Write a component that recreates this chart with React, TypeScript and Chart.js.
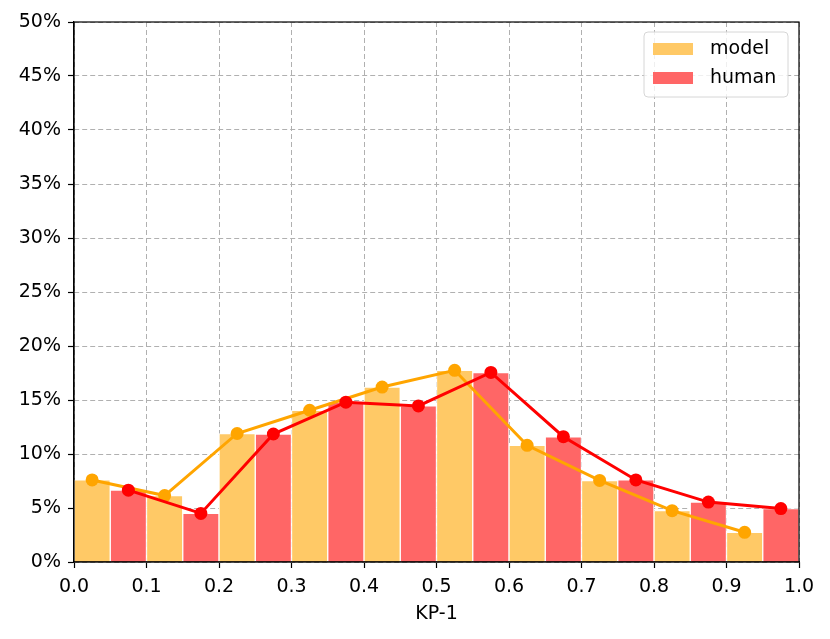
import React, { useEffect, useRef } from 'react';
import { Chart, registerables } from 'chart.js';

Chart.register(...registerables);

// Histogram bins (width 0.1) — model occupies left half, human right half
const binCenters = [0.05, 0.15, 0.25, 0.35, 0.45, 0.55, 0.65, 0.75, 0.85, 0.95];
const modelX = [0.025, 0.125, 0.225, 0.325, 0.425, 0.525, 0.625, 0.725, 0.825, 0.925];
const humanX = [0.075, 0.175, 0.275, 0.375, 0.475, 0.575, 0.675, 0.775, 0.875, 0.975];
const modelValues = [7.6, 6.15, 11.9, 14.05, 16.2, 17.75, 10.8, 7.55, 4.75, 2.75];
const humanValues = [6.65, 4.5, 11.85, 14.8, 14.45, 17.55, 11.6, 7.6, 5.55, 4.95];
const seriesNames = ['model', 'human'];
const xAxisTitle = 'KP-1';
const yMax = 50;
const yStep = 5;
const xStep = 0.1;

const MODEL_BAR = '#FFC966';
const HUMAN_BAR = '#FF6666';
const MODEL_LINE = '#FFA500';
const HUMAN_LINE = '#FF0000';
const FONT = 'DejaVu Sans';
const FS = 19;

export default function App() {
  const ref = useRef<HTMLCanvasElement | null>(null);

  useEffect(() => {
    document.body.style.margin = '0';
    const canvas = ref.current;
    if (!canvas) return;

    const framePlugin = {
      id: 'frame',
      afterDatasetsDraw(chart: any) {
        const { ctx, chartArea: a } = chart;
        ctx.save();
        ctx.strokeStyle = '#000';
        ctx.lineWidth = 1.2;
        ctx.strokeRect(a.left, a.top, a.right - a.left, a.bottom - a.top);
        ctx.restore();
      },
    };

    const legendPlugin = {
      id: 'mplLegend',
      afterDraw(chart: any) {
        const { ctx, chartArea: a } = chart;
        const w = 144;
        const h = 65;
        const x = a.right - 11 - w;
        const y = a.top + 10;
        ctx.save();
        ctx.beginPath();
        const r = 4;
        ctx.moveTo(x + r, y);
        ctx.arcTo(x + w, y, x + w, y + h, r);
        ctx.arcTo(x + w, y + h, x, y + h, r);
        ctx.arcTo(x, y + h, x, y, r);
        ctx.arcTo(x, y, x + w, y, r);
        ctx.closePath();
        ctx.fillStyle = 'rgba(255,255,255,0.8)';
        ctx.fill();
        ctx.strokeStyle = '#d6d6d6';
        ctx.lineWidth = 1;
        ctx.stroke();
        const colors = [MODEL_BAR, HUMAN_BAR];
        ctx.font = `${FS}px "${FONT}"`;
        ctx.textBaseline = 'middle';
        ctx.textAlign = 'left';
        seriesNames.forEach((name, i) => {
          const cy = y + 17 + i * 29;
          ctx.fillStyle = colors[i];
          ctx.fillRect(x + 9, cy - 6, 40, 12);
          ctx.fillStyle = '#000';
          ctx.fillText(name, x + 66, cy);
        });
        ctx.restore();
      },
    };

    const chart = new Chart(canvas, {
      type: 'bar',
      data: {
        datasets: [
          {
            type: 'line',
            label: seriesNames[1] + ' line',
            data: humanX.map((x, i) => ({ x, y: humanValues[i] })),
            borderColor: HUMAN_LINE,
            backgroundColor: HUMAN_LINE,
            borderWidth: 3,
            pointRadius: 6.5,
            pointBorderWidth: 0,
            pointBackgroundColor: HUMAN_LINE,
            order: 0,
          } as any,
          {
            type: 'line',
            label: seriesNames[0] + ' line',
            data: modelX.map((x, i) => ({ x, y: modelValues[i] })),
            borderColor: MODEL_LINE,
            backgroundColor: MODEL_LINE,
            borderWidth: 3,
            pointRadius: 6.5,
            pointBorderWidth: 0,
            pointBackgroundColor: MODEL_LINE,
            order: 1,
          } as any,
          {
            type: 'bar',
            label: seriesNames[0],
            data: binCenters.map((x, i) => ({ x, y: modelValues[i] })),
            backgroundColor: MODEL_BAR,
            borderColor: '#ffffff',
            borderWidth: 1,
            barPercentage: 1,
            categoryPercentage: 1,
            order: 2,
          } as any,
          {
            type: 'bar',
            label: seriesNames[1],
            data: binCenters.map((x, i) => ({ x, y: humanValues[i] })),
            backgroundColor: HUMAN_BAR,
            borderColor: '#ffffff',
            borderWidth: 1,
            barPercentage: 1,
            categoryPercentage: 1,
            order: 3,
          } as any,
        ],
      },
      options: {
        responsive: false,
        animation: false,
        layout: { padding: { top: 22, right: 31, left: 0, bottom: 0 } },
        plugins: {
          legend: { display: false },
          tooltip: { enabled: false },
        },
        scales: {
          x: {
            type: 'linear',
            min: 0,
            max: 1,
            offset: false,
            afterFit: (s: any) => {
              s.height = 77;
            },
            ticks: {
              stepSize: xStep,
              color: '#000',
              padding: 8,
              font: { family: FONT, size: FS },
              callback: (v: any) => Number(v).toFixed(1),
              maxRotation: 0,
            },
            grid: {
              color: '#b0b0b0',
              lineWidth: 1,
              offset: false,
              tickColor: '#000',
              tickLength: 6,
              tickWidth: 1.2,
            },
            border: { color: '#000', width: 1.2, dash: [5, 3] },
            title: {
              display: true,
              text: xAxisTitle,
              color: '#000',
              font: { family: FONT, size: FS },
              padding: { top: 0, bottom: 14 },
            },
          } as any,
          y: {
            type: 'linear',
            min: 0,
            max: yMax,
            afterFit: (s: any) => {
              s.width = 74;
            },
            ticks: {
              stepSize: yStep,
              color: '#000',
              padding: 7,
              font: { family: FONT, size: FS },
              callback: (v: any) => `${v}%`,
            },
            grid: {
              color: '#b0b0b0',
              lineWidth: 1,
              tickColor: '#000',
              tickLength: 6,
              tickWidth: 1.2,
            },
            border: { color: '#000', width: 1.2, dash: [5, 3] },
          } as any,
        },
      } as any,
      plugins: [framePlugin, legendPlugin],
    });

    return () => chart.destroy();
  }, []);

  return (
    <div style={{ width: 830, height: 639 }}>
      <canvas ref={ref} width={830} height={639} style={{ display: 'block' }} />
    </div>
  );
}
